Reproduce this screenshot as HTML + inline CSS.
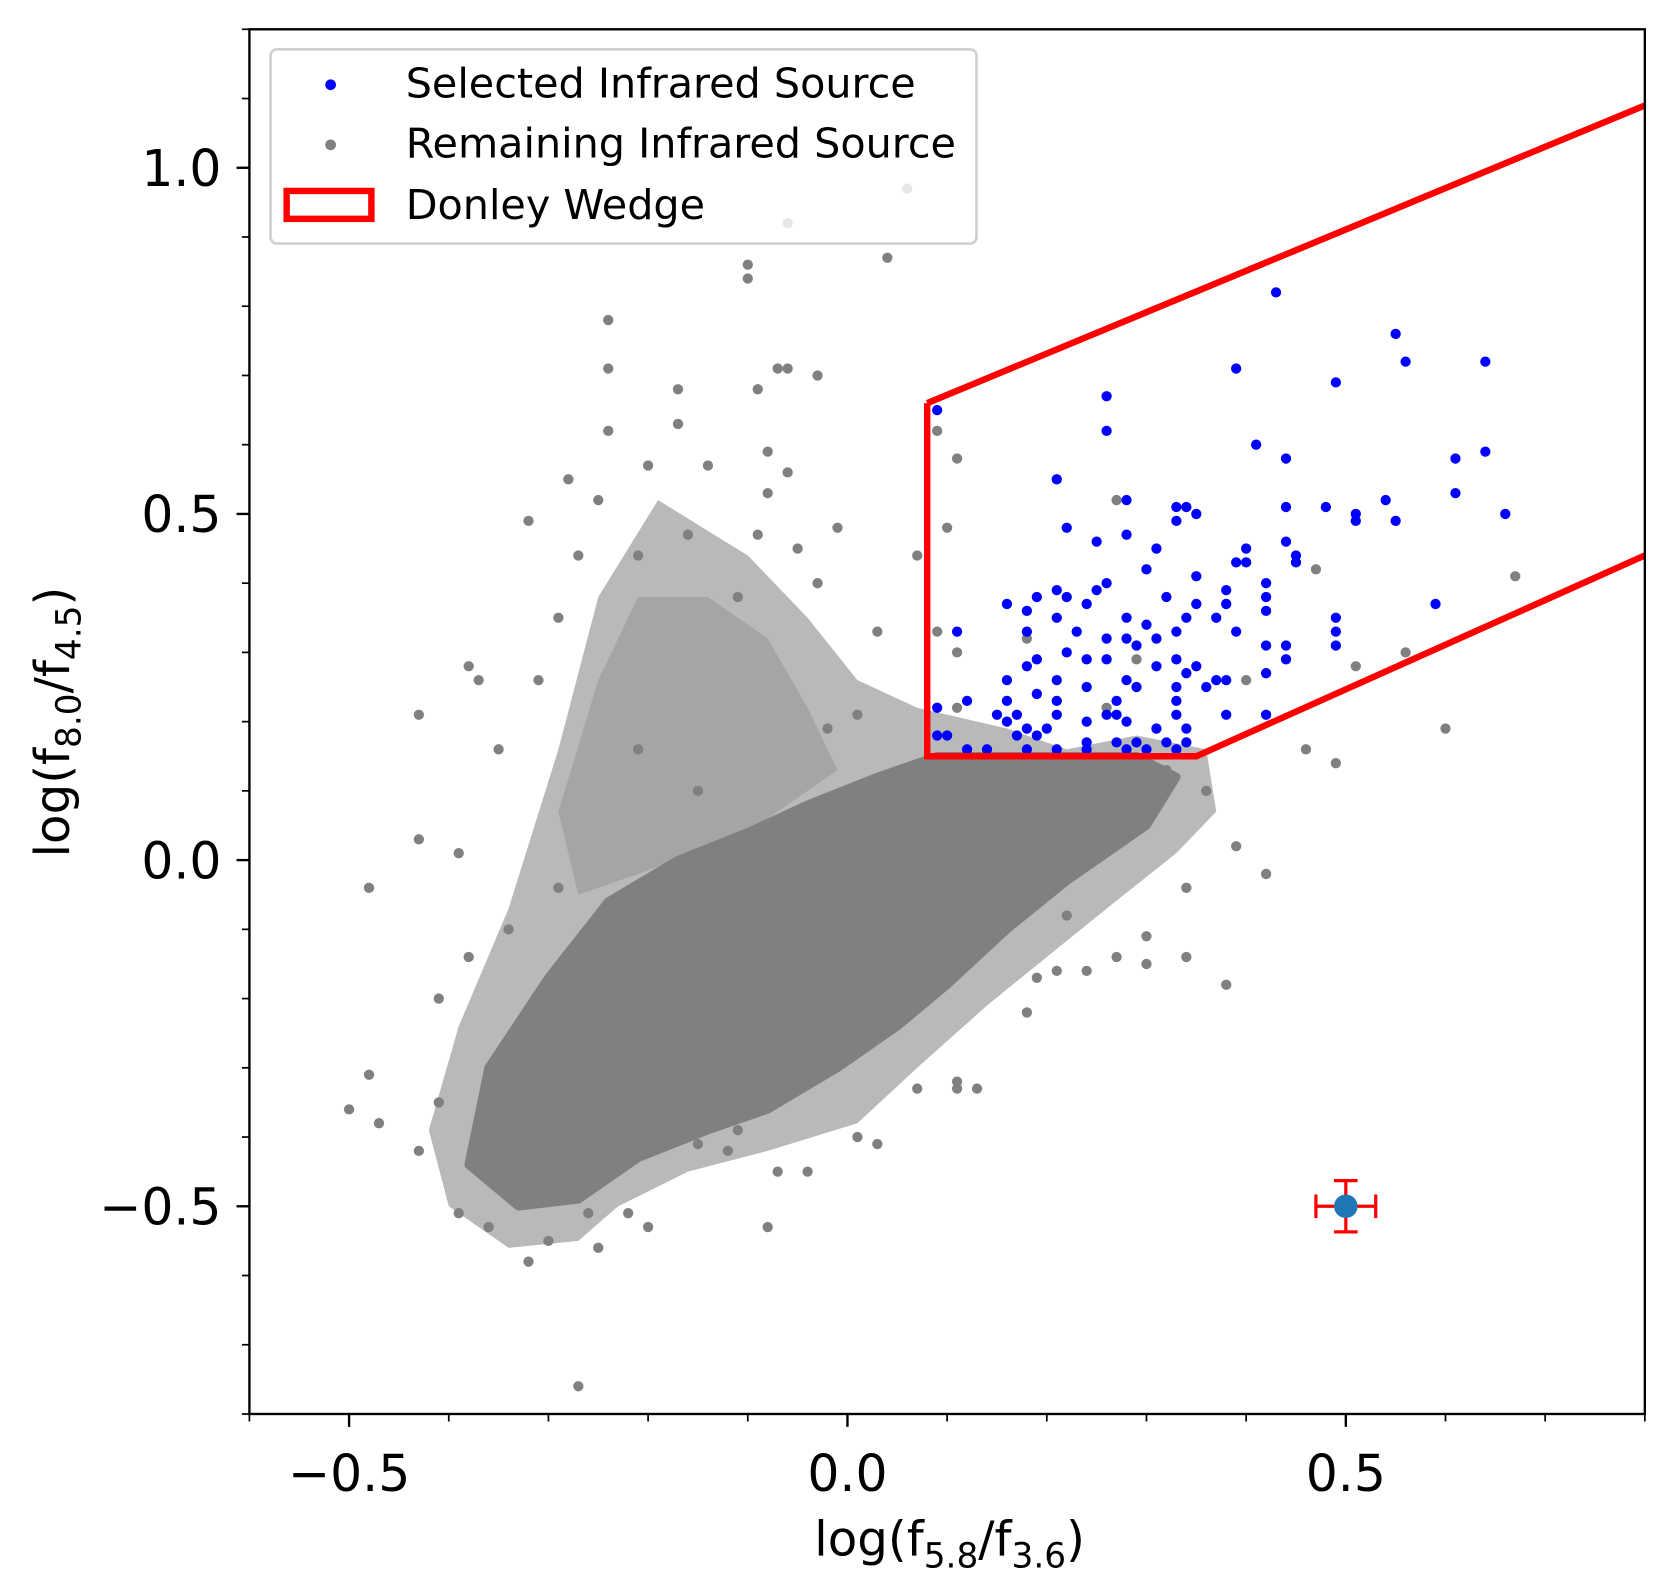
<!DOCTYPE html>
<html><head><meta charset="utf-8"><style>
html,body{margin:0;padding:0;background:#fff;}
svg{display:block;font-family:"DejaVu Sans","Liberation Sans",sans-serif;}
</style></head><body>
<svg id="chart" width="1674" height="1591" viewBox="0 0 1560 1483" xmlns="http://www.w3.org/2000/svg">
<rect width="1560" height="1483" fill="#fff"/>
<g id="plot"></g>
<g id="axes"></g>
<g id="legend">
  <rect x="252" y="46" width="658" height="181" rx="6" fill="#fff" fill-opacity="0.8" stroke="#d0d0d0" stroke-width="2.5"/>
  <circle cx="308" cy="79" r="5" fill="#0000ff"/>
  <text x="378" y="91" font-size="38.5">Selected Infrared Source</text>
  <circle cx="308" cy="135" r="5" fill="#808080"/>
  <text x="378" y="147" font-size="38.5">Remaining Infrared Source</text>
  <rect x="267" y="178" width="79" height="26" fill="none" stroke="#ff0000" stroke-width="6"/>
  <text x="378" y="204" font-size="38.5">Donley Wedge</text>
</g>
</svg>
<script>
const xTicks=[-0.5,0.0,0.5];
const xTickLabels=["\u22120.5","0.0","0.5"];
const yTicks=[-0.5,0.0,0.5,1.0];
const yTickLabels=["\u22120.5","0.0","0.5","1.0"];
const haloPoly=[[-0.42,-0.39],[-0.39,-0.24],[-0.34,-0.07],[-0.29,0.16],[-0.25,0.38],[-0.19,0.52],[-0.10,0.44],[-0.04,0.35],[0.01,0.26],[0.07,0.22],[0.16,0.19],[0.22,0.16],[0.29,0.18],[0.36,0.16],[0.37,0.07],[0.33,0.01],[0.26,-0.07],[0.20,-0.14],[0.14,-0.21],[0.07,-0.30],[0.01,-0.38],[-0.08,-0.42],[-0.16,-0.45],[-0.23,-0.50],[-0.27,-0.55],[-0.34,-0.56],[-0.40,-0.50]];
const midPoly=[[-0.29,0.07],[-0.25,0.26],[-0.21,0.38],[-0.14,0.38],[-0.08,0.32],[-0.04,0.22],[-0.01,0.13],[-0.10,0.04],[-0.21,-0.02],[-0.27,-0.05]];
const corePoly=[[-0.38,-0.44],[-0.36,-0.30],[-0.30,-0.17],[-0.24,-0.06],[-0.17,0.0],[-0.10,0.04],[-0.04,0.08],[0.03,0.12],[0.09,0.15],[0.16,0.15],[0.22,0.15],[0.29,0.15],[0.33,0.12],[0.30,0.05],[0.22,-0.03],[0.16,-0.10],[0.10,-0.18],[0.05,-0.24],[-0.01,-0.30],[-0.08,-0.36],[-0.14,-0.39],[-0.21,-0.43],[-0.27,-0.49],[-0.33,-0.50]];
const greyX=[0.06,-0.06,-0.10,-0.10,0.04,-0.24,-0.24,-0.07,-0.06,-0.03,-0.09,-0.17,-0.17,-0.24,-0.08,-0.06,-0.20,-0.14,-0.28,-0.32,-0.01,-0.09,-0.05,-0.03,0.07,0.10,0.11,0.09,0.27,0.47,0.67,0.56,0.51,0.60,0.46,0.49,0.39,0.42,0.34,0.34,0.38,0.30,0.30,-0.43,-0.38,-0.37,-0.35,-0.48,-0.41,-0.48,-0.50,-0.47,-0.41,-0.39,-0.36,-0.32,-0.30,-0.27,-0.26,-0.25,-0.22,-0.20,-0.08,-0.07,-0.04,0.01,0.03,0.07,0.11,0.13,0.11,0.18,0.21,0.19,0.24,0.27,-0.12,-0.11,-0.15,-0.43,-0.39,-0.38,-0.34,-0.29,0.09,0.11,0.03,0.01,-0.02,-0.21,-0.15,-0.26,-0.43,-0.37,-0.10,-0.04,0.24,0.32,0.36,0.22,-0.10,-0.19,-0.31,-0.29,-0.21,-0.16,-0.11,-0.08,-0.25,-0.27,0.18,0.26,0.11,0.29,0.40];
const greyY=[0.97,0.92,0.86,0.84,0.87,0.78,0.71,0.71,0.71,0.70,0.68,0.68,0.63,0.62,0.59,0.56,0.57,0.57,0.55,0.49,0.48,0.47,0.45,0.40,0.44,0.48,0.58,0.62,0.52,0.42,0.41,0.30,0.28,0.19,0.16,0.14,0.02,-0.02,-0.04,-0.14,-0.18,-0.11,-0.15,0.21,0.28,0.26,0.16,-0.04,-0.20,-0.31,-0.36,-0.38,-0.35,-0.51,-0.53,-0.58,-0.55,-0.76,-0.51,-0.56,-0.51,-0.53,-0.53,-0.45,-0.45,-0.40,-0.41,-0.33,-0.33,-0.33,-0.32,-0.22,-0.16,-0.17,-0.16,-0.14,-0.42,-0.39,-0.41,0.03,0.01,-0.14,-0.10,-0.04,0.33,0.30,0.33,0.21,0.19,0.16,0.10,-0.27,-0.42,-0.45,-0.21,-0.14,0.07,0.13,0.10,-0.08,-0.35,-0.36,0.26,0.35,0.44,0.47,0.38,0.53,0.52,0.44,0.32,0.22,0.22,0.29,0.26];
const blueX=[0.09,0.43,0.55,0.56,0.64,0.39,0.49,0.26,0.26,0.41,0.44,0.64,0.61,0.21,0.61,0.28,0.44,0.48,0.54,0.51,0.55,0.51,0.66,0.33,0.34,0.35,0.33,0.22,0.28,0.25,0.31,0.40,0.44,0.45,0.45,0.30,0.39,0.40,0.26,0.35,0.42,0.38,0.42,0.25,0.21,0.19,0.22,0.32,0.35,0.38,0.24,0.42,0.59,0.16,0.18,0.21,0.28,0.34,0.37,0.49,0.30,0.23,0.26,0.28,0.33,0.39,0.49,0.11,0.31,0.29,0.44,0.49,0.42,0.19,0.22,0.24,0.26,0.33,0.35,0.44,0.18,0.31,0.28,0.34,0.37,0.38,0.16,0.21,0.24,0.29,0.33,0.36,0.42,0.12,0.16,0.19,0.21,0.27,0.33,0.15,0.17,0.21,0.26,0.27,0.33,0.38,0.42,0.09,0.16,0.18,0.20,0.24,0.28,0.31,0.34,0.17,0.19,0.24,0.27,0.29,0.32,0.34,0.09,0.12,0.14,0.18,0.21,0.24,0.28,0.30,0.33,0.10,0.18];
const blueY=[0.65,0.82,0.76,0.72,0.72,0.71,0.69,0.67,0.62,0.60,0.58,0.59,0.58,0.55,0.53,0.52,0.51,0.51,0.52,0.50,0.49,0.49,0.50,0.51,0.51,0.50,0.49,0.48,0.47,0.46,0.45,0.45,0.46,0.44,0.43,0.42,0.43,0.43,0.40,0.41,0.40,0.39,0.38,0.39,0.39,0.38,0.38,0.38,0.37,0.37,0.37,0.36,0.37,0.37,0.36,0.35,0.35,0.35,0.35,0.35,0.34,0.33,0.32,0.32,0.33,0.33,0.33,0.33,0.32,0.31,0.31,0.31,0.31,0.29,0.30,0.29,0.29,0.29,0.28,0.29,0.28,0.28,0.26,0.27,0.26,0.26,0.26,0.26,0.25,0.25,0.25,0.25,0.27,0.23,0.23,0.24,0.23,0.23,0.23,0.21,0.21,0.21,0.21,0.21,0.21,0.21,0.21,0.22,0.20,0.19,0.19,0.20,0.20,0.19,0.19,0.18,0.18,0.17,0.17,0.17,0.17,0.17,0.18,0.16,0.16,0.16,0.16,0.16,0.16,0.16,0.16,0.18,0.33];
const wedgeX=[0.08,0.08,0.35,0.80];
const wedgeY=[0.66,0.15,0.15,0.44];
const wedgeTopX=[0.08,0.80];
const wedgeTopY=[0.66,1.09];
const errPoint=[0.5,-0.5];
const errXY=[0.03,0.037];

const L=232.3,R=1533,T=27.3,B=1318;
const xMin=-0.600,xMax=0.80,yMin=-0.80,yMax=1.20;
function sx(v){return L+(v-xMin)/(xMax-xMin)*(R-L);}
function sy(v){return B-(v-yMin)/(yMax-yMin)*(B-T);}
const NS="http://www.w3.org/2000/svg";
function mk(tag,attrs,parent){const e=document.createElementNS(NS,tag);for(const k in attrs)e.setAttribute(k,attrs[k]);parent.appendChild(e);return e;}
const plot=document.getElementById('plot'),axes=document.getElementById('axes');
mk('rect',{x:L,y:T,width:R-L,height:B-T,fill:'#fff'},plot);
const cp=mk('clipPath',{id:'clip'},plot);mk('rect',{x:L,y:T,width:R-L,height:B-T},cp);
const g=mk('g',{'clip-path':'url(#clip)'},plot);
function poly(arr,op,sw,name){const p=mk('polygon',{points:arr.map(a=>sx(a[0])+','+sy(a[1])).join(' '),fill:'#808080','fill-opacity':op,stroke:sw?'#808080':'none','stroke-width':sw,'stroke-linejoin':'round'},g);

}
poly(haloPoly,0.55,0,'remaining-density-halo');
poly(midPoly,0.35,0,'remaining-density-mid');
poly(corePoly,1,8,'remaining-density-core');
for(let i=0;i<greyX.length;i++){const c=mk('circle',{cx:sx(greyX[i]),cy:sy(greyY[i]),r:4.8,fill:'#808080'},g);

}
for(let i=0;i<blueX.length;i++){const c=mk('circle',{cx:sx(blueX[i]),cy:sy(blueY[i]),r:4.8,fill:'#0000ff'},g);

}
const w1=mk('polyline',{points:wedgeX.map((v,i)=>sx(v)+','+sy(wedgeY[i])).join(' '),fill:'none',stroke:'#ff0000','stroke-width':6},g);


const w2=mk('polyline',{points:wedgeTopX.map((v,i)=>sx(v)+','+sy(wedgeTopY[i])).join(' '),fill:'none',stroke:'#ff0000','stroke-width':6},g);


const eg=mk('g',{},g);


const ex=sx(errPoint[0]),ey=sy(errPoint[1]),dx=sx(errPoint[0]+errXY[0])-ex,dy=ey-sy(errPoint[1]+errXY[1]);
mk('line',{x1:ex-dx,y1:ey,x2:ex+dx,y2:ey,stroke:'#ff0000','stroke-width':3},eg);
mk('line',{x1:ex,y1:ey-dy,x2:ex,y2:ey+dy,stroke:'#ff0000','stroke-width':3},eg);
mk('line',{x1:ex-dx,y1:ey-11,x2:ex-dx,y2:ey+11,stroke:'#ff0000','stroke-width':3},eg);
mk('line',{x1:ex+dx,y1:ey-11,x2:ex+dx,y2:ey+11,stroke:'#ff0000','stroke-width':3},eg);
mk('line',{x1:ex-11,y1:ey-dy,x2:ex+11,y2:ey-dy,stroke:'#ff0000','stroke-width':3},eg);
mk('line',{x1:ex-11,y1:ey+dy,x2:ex+11,y2:ey+dy,stroke:'#ff0000','stroke-width':3},eg);
mk('circle',{cx:ex,cy:ey,r:11,fill:'#1f77b4'},eg);
const fr=mk('rect',{x:L,y:T,width:R-L,height:B-T,fill:'none',stroke:'#000','stroke-width':2.2},axes);


for(let v=-0.6;v<=0.801;v+=0.1){const X=sx(v);mk('line',{x1:X,y1:B,x2:X,y2:B+7,stroke:'#000','stroke-width':1.6},axes);}
for(let v=-0.8;v<=1.201;v+=0.1){const Y=sy(v);mk('line',{x1:L,y1:Y,x2:L-7,y2:Y,stroke:'#000','stroke-width':1.6},axes);}
xTicks.forEach((v,i)=>{const X=sx(v);mk('line',{x1:X,y1:B,x2:X,y2:B+12,stroke:'#000','stroke-width':2.2},axes);
const t=mk('text',{x:X,y:B+72,'font-size':47,'text-anchor':'middle'},axes);t.textContent=xTickLabels[i];

});
yTicks.forEach((v,i)=>{const Y=sy(v);mk('line',{x1:L,y1:Y,x2:L-12,y2:Y,stroke:'#000','stroke-width':2.2},axes);
const t=mk('text',{x:L-26,y:Y+17,'font-size':47,'text-anchor':'end'},axes);t.textContent=yTickLabels[i];

});
const xl=mk('text',{x:885,y:1450,'font-size':45,'text-anchor':'middle'},axes);
xl.innerHTML='log(f<tspan font-size="32" dy="11">5.8</tspan><tspan dy="-11">/f</tspan><tspan font-size="32" dy="11">3.6</tspan><tspan dy="-11">)</tspan>';


const yl=mk('text',{x:0,y:0,'font-size':45,'text-anchor':'middle',transform:'translate(64,673) rotate(-90)'},axes);
yl.innerHTML='log(f<tspan font-size="32" dy="11">8.0</tspan><tspan dy="-11">/f</tspan><tspan font-size="32" dy="11">4.5</tspan><tspan dy="-11">)</tspan>';


document.getElementById('chart').appendChild(document.getElementById('legend'));
</script>
</body></html>
